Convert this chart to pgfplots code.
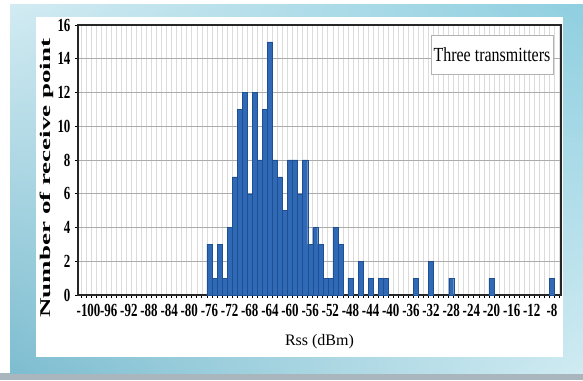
\documentclass[border=0pt]{standalone}
\usepackage{pgfplots}
\pgfplotsset{compat=1.18}
\usetikzlibrary{shadings}
\usepackage{graphicx}
\usepackage{fontspec}
\setmainfont{Liberation Serif}
\newfontfamily\tickfont[FakeStretch=0.7]{Liberation Serif}
\newfontfamily\legfont[FakeStretch=0.8]{Liberation Serif}
\definecolor{barblue}{HTML}{3069B5}
\definecolor{bardark}{HTML}{1D4F91}
\definecolor{frUL}{HTML}{D2EBF2}
\definecolor{frUR}{HTML}{8FCFE0}
\definecolor{frLL}{HTML}{7DBDD0}
\definecolor{frLR}{HTML}{D0EBF2}
\definecolor{botgray}{HTML}{A9B6BD}
\begin{document}
\begin{tikzpicture}
\useasboundingbox (0pt,0pt) rectangle (583pt,380pt);
\fill[white] (0pt,0pt) rectangle (583pt,380pt);
\fill[botgray] (0pt,0pt) rectangle (583pt,7pt);
\shade[upper left=frUL, upper right=frUR, lower left=frLL, lower right=frLR] (10pt,7pt) rectangle (583pt,375pt);
\fill[white] (36pt,23pt) rectangle (563pt,363pt);
\begin{axis}[
  at={(78pt,85pt)}, anchor=south west,
  width=483pt, height=270pt, scale only axis,
  xmin=-102.1, xmax=-6.2, ymin=0, ymax=16,
  axis line style={line width=1.2pt, black!85},
  tick align=outside,
  xtick pos=lower, ytick pos=left,
  xtick={-101.5,-100.5,...,-6.5},
  xticklabels={},
  major tick length=3pt,
  xmajorgrids, ymajorgrids,
  x grid style={draw=gray!28, line width=0.7pt},
  y grid style={draw=gray!65, line width=0.7pt},
  extra x ticks={-100,-96,...,-8},
  extra x tick labels={-100,-96,-92,-88,-84,-80,-76,-72,-68,-64,-60,-56,-52,-48,-44,-40,-36,-32,-28,-24,-20,-16,-12,-8},
  extra x tick style={major tick length=0pt, grid=none},
  ytick={0,2,...,16},
  yticklabels={0,2,4,6,8,10,12,14,16},
  tick style={black, line width=0.8pt},
  tick label style={font=\tickfont\bfseries\fontsize{18.5}{18.5}\selectfont},
  xticklabel style={yshift=-6pt},
  yticklabel style={xshift=-1pt},
  xlabel={\fontsize{16}{16}\selectfont Rss (dBm)},
  xlabel style={at={(axis description cs:0.5,-0.174)}, anchor=center},
  ylabel={\scalebox{1}[0.55]{\bfseries\fontsize{27}{27}\selectfont Number of receive point}},
  ylabel style={at={(axis description cs:-0.064,0.433)}, anchor=center},
]
\addplot[ybar, bar width=1, fill=barblue, draw=bardark, line width=0.3pt] coordinates {
(-76,3)(-75,1)(-74,3)(-73,1)(-72,4)(-71,7)(-70,11)(-69,12)(-68,6)(-67,12)
(-66,8)(-65,11)(-64,15)(-63,8)(-62,7)(-61,5)(-60,8)(-59,8)(-58,6)(-57,8)
(-56,3)(-55,4)(-54,3)(-53,1)(-52,1)(-51,4)(-50,3)(-48,1)(-46,2)(-44,1)
(-42,1)(-41,1)(-35,1)(-32,2)(-28,1)(-20,1)(-8,1)
};
\node[draw=gray!60, fill=white, line width=0.6pt, minimum width=122pt, minimum height=39pt, inner sep=0pt]
  at (axis description cs:0.857,0.891) {\legfont\fontsize{20}{20}\selectfont Three transmitters};
\end{axis}
\end{tikzpicture}
\end{document}
